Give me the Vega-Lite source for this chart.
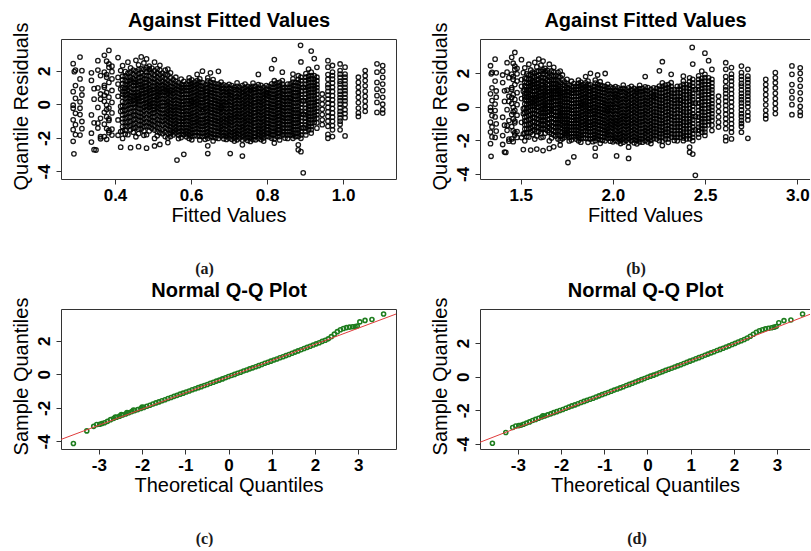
{
"$schema":"https://vega.github.io/schema/vega-lite/v6.json",
"background":"white",
"padding":{"left":10,"top":10,"right":0,"bottom":0},
"columns":2,
"spacing":{"row":130,"column":84},
"bounds":"flush",
"datasets":{
"res":[
{"f":0.29,"e":1.336,"r":2.43},{"f":0.296,"e":1.344,"r":2.04},{"f":0.29,"e":1.336,"r":0.76},{"f":0.296,"e":1.344,"r":0.36},{"f":0.29,"e":1.336,"r":-0.23},{"f":0.296,"e":1.344,"r":-0.53},{"f":0.29,"e":1.336,"r":-0.92},{"f":0.296,"e":1.344,"r":-1.21},{"f":0.29,"e":1.336,"r":-1.51},{"f":0.296,"e":1.344,"r":-1.8},{"f":0.29,"e":1.336,"r":-2.2},{"f":0.292,"e":1.339,"r":-2.95},{"f":0.296,"e":1.344,"r":1.12},{"f":0.29,"e":1.336,"r":-0.05},{"f":0.293,"e":1.34,"r":1.95},
{"f":0.308,"e":1.361,"r":2.82},{"f":0.313,"e":1.367,"r":2.01},{"f":0.308,"e":1.361,"r":1.52},{"f":0.313,"e":1.367,"r":0.56},{"f":0.308,"e":1.361,"r":-0.23},{"f":0.313,"e":1.367,"r":-1.02},{"f":0.308,"e":1.361,"r":-1.83},{"f":0.313,"e":1.367,"r":0.93},{"f":0.308,"e":1.361,"r":-0.61},{"f":0.313,"e":1.367,"r":-1.45},{"f":0.308,"e":1.361,"r":0.15},
{"f":0.338,"e":1.402,"r":1.43},{"f":0.345,"e":1.412,"r":0.94},{"f":0.338,"e":1.402,"r":-0.63},{"f":0.345,"e":1.412,"r":-1.1},{"f":0.338,"e":1.402,"r":-1.72},{"f":0.345,"e":1.412,"r":-2.7},{"f":0.338,"e":1.402,"r":1.88},{"f":0.345,"e":1.412,"r":0.31},{"f":0.338,"e":1.402,"r":-2.25},{"f":0.35,"e":1.419,"r":-2.72},
{"f":0.355,"e":1.426,"r":2.05},{"f":0.362,"e":1.436,"r":1.72},{"f":0.355,"e":1.426,"r":0.98},{"f":0.362,"e":1.436,"r":0.31},{"f":0.355,"e":1.426,"r":-0.18},{"f":0.362,"e":1.436,"r":-0.83},{"f":0.355,"e":1.426,"r":-1.41},{"f":0.362,"e":1.436,"r":-1.93},{"f":0.355,"e":1.426,"r":2.61},{"f":0.362,"e":1.436,"r":0.62},{"f":0.355,"e":1.426,"r":-1.12},{"f":0.362,"e":1.436,"r":-2.05},
{"f":0.384,"e":1.468,"r":3.22},{"f":0.372,"e":1.451,"r":2.93},{"f":0.378,"e":1.459,"r":2.58},{"f":0.384,"e":1.468,"r":2.21},{"f":0.372,"e":1.451,"r":1.93},{"f":0.378,"e":1.459,"r":1.62},{"f":0.384,"e":1.468,"r":1.31},{"f":0.372,"e":1.451,"r":1.02},{"f":0.378,"e":1.459,"r":0.71},{"f":0.384,"e":1.468,"r":0.43},{"f":0.372,"e":1.451,"r":0.18},{"f":0.378,"e":1.459,"r":-0.04},{"f":0.384,"e":1.468,"r":-0.22},{"f":0.372,"e":1.451,"r":-0.47},{"f":0.378,"e":1.459,"r":-0.73},{"f":0.384,"e":1.468,"r":-0.96},{"f":0.372,"e":1.451,"r":-1.18},{"f":0.378,"e":1.459,"r":-1.44},{"f":0.384,"e":1.468,"r":-1.69},{"f":0.372,"e":1.451,"r":-1.92},{"f":0.378,"e":1.459,"r":-2.08},{"f":0.384,"e":1.468,"r":2.41},{"f":0.372,"e":1.451,"r":1.13},{"f":0.378,"e":1.459,"r":-0.31},{"f":0.384,"e":1.468,"r":-0.86},{"f":0.372,"e":1.451,"r":0.55},{"f":0.378,"e":1.459,"r":1.78},{"f":0.384,"e":1.468,"r":-1.55},
{"f":0.392,"e":1.48,"r":2.28},{"f":0.392,"e":1.48,"r":1.52},{"f":0.392,"e":1.48,"r":0.83},{"f":0.392,"e":1.48,"r":-0.51},{"f":0.392,"e":1.48,"r":-1.48},{"f":0.392,"e":1.48,"r":-1.83},{"f":0.392,"e":1.48,"r":0.12},{"f":0.392,"e":1.48,"r":1.95},
{"f":0.408,"e":1.504,"r":2.79},{"f":0.415,"e":1.514,"r":2.02},{"f":0.408,"e":1.504,"r":1.61},{"f":0.415,"e":1.514,"r":0.92},{"f":0.408,"e":1.504,"r":0.48},{"f":0.415,"e":1.514,"r":-0.42},{"f":0.408,"e":1.504,"r":-0.93},{"f":0.415,"e":1.514,"r":-1.62},{"f":0.408,"e":1.504,"r":-1.84},{"f":0.415,"e":1.514,"r":-2.55},{"f":0.408,"e":1.504,"r":1.21},{"f":0.415,"e":1.514,"r":-0.12},
{"f":0.42,"e":1.522,"r":2.31},{"f":0.42,"e":1.522,"r":1.68},{"f":0.42,"e":1.522,"r":1.24},{"f":0.42,"e":1.522,"r":0.77},{"f":0.42,"e":1.522,"r":0.42},{"f":0.42,"e":1.522,"r":-0.08},{"f":0.42,"e":1.522,"r":-0.63},{"f":0.42,"e":1.522,"r":-1.07},{"f":0.42,"e":1.522,"r":-1.58},{"f":0.42,"e":1.522,"r":-2.03},
{"f":0.427,"e":1.533,"r":1.95},{"f":0.427,"e":1.533,"r":1.41},{"f":0.427,"e":1.533,"r":0.95},{"f":0.427,"e":1.533,"r":0.56},{"f":0.427,"e":1.533,"r":0.12},{"f":0.427,"e":1.533,"r":-0.35},{"f":0.427,"e":1.533,"r":-0.82},{"f":0.427,"e":1.533,"r":-1.31},{"f":0.427,"e":1.533,"r":-1.77},
{"f":0.434,"e":1.544,"r":2.52},{"f":0.434,"e":1.544,"r":1.87},{"f":0.434,"e":1.544,"r":1.38},{"f":0.434,"e":1.544,"r":1.03},{"f":0.434,"e":1.544,"r":0.61},{"f":0.434,"e":1.544,"r":0.18},{"f":0.434,"e":1.544,"r":-0.27},{"f":0.434,"e":1.544,"r":-0.76},{"f":0.434,"e":1.544,"r":-1.33},{"f":0.434,"e":1.544,"r":-1.81},{"f":0.434,"e":1.544,"r":0.86},
{"f":0.441,"e":1.554,"r":2.18},{"f":0.441,"e":1.554,"r":1.63},{"f":0.441,"e":1.554,"r":1.27},{"f":0.441,"e":1.554,"r":0.72},{"f":0.441,"e":1.554,"r":0.33},{"f":0.441,"e":1.554,"r":0.02},{"f":0.441,"e":1.554,"r":-0.48},{"f":0.441,"e":1.554,"r":-1.02},{"f":0.441,"e":1.554,"r":-1.52},{"f":0.441,"e":1.554,"r":-2.58},{"f":0.441,"e":1.554,"r":1.91},{"f":0.441,"e":1.554,"r":-0.21},
{"f":0.448,"e":1.565,"r":2.05},{"f":0.448,"e":1.565,"r":1.54},{"f":0.448,"e":1.565,"r":1.12},{"f":0.448,"e":1.565,"r":0.68},{"f":0.448,"e":1.565,"r":0.24},{"f":0.448,"e":1.565,"r":-0.19},{"f":0.448,"e":1.565,"r":-0.64},{"f":0.448,"e":1.565,"r":-1.18},{"f":0.448,"e":1.565,"r":-1.66},
{"f":0.455,"e":1.576,"r":2.63},{"f":0.455,"e":1.576,"r":1.98},{"f":0.455,"e":1.576,"r":1.47},{"f":0.455,"e":1.576,"r":1.13},{"f":0.455,"e":1.576,"r":0.72},{"f":0.455,"e":1.576,"r":0.38},{"f":0.455,"e":1.576,"r":0.07},{"f":0.455,"e":1.576,"r":-0.41},{"f":0.455,"e":1.576,"r":-0.88},{"f":0.455,"e":1.576,"r":-1.38},{"f":0.455,"e":1.576,"r":-1.93},{"f":0.455,"e":1.576,"r":0.93},
{"f":0.462,"e":1.587,"r":2.36},{"f":0.462,"e":1.587,"r":1.82},{"f":0.462,"e":1.587,"r":1.36},{"f":0.462,"e":1.587,"r":0.97},{"f":0.462,"e":1.587,"r":0.53},{"f":0.462,"e":1.587,"r":0.16},{"f":0.462,"e":1.587,"r":-0.23},{"f":0.462,"e":1.587,"r":-0.71},{"f":0.462,"e":1.587,"r":-1.22},{"f":0.462,"e":1.587,"r":-1.74},{"f":0.462,"e":1.587,"r":0.69},{"f":0.462,"e":1.587,"r":-2.52},
{"f":0.469,"e":1.598,"r":2.83},{"f":0.469,"e":1.598,"r":2.12},{"f":0.469,"e":1.598,"r":1.63},{"f":0.469,"e":1.598,"r":1.18},{"f":0.469,"e":1.598,"r":0.82},{"f":0.469,"e":1.598,"r":0.43},{"f":0.469,"e":1.598,"r":-0.03},{"f":0.469,"e":1.598,"r":-0.52},{"f":0.469,"e":1.598,"r":-0.98},{"f":0.469,"e":1.598,"r":-1.47},{"f":0.469,"e":1.598,"r":1.01},{"f":0.469,"e":1.598,"r":0.21},
{"f":0.476,"e":1.61,"r":2.47},{"f":0.476,"e":1.61,"r":1.74},{"f":0.476,"e":1.61,"r":1.29},{"f":0.476,"e":1.61,"r":0.87},{"f":0.476,"e":1.61,"r":0.46},{"f":0.476,"e":1.61,"r":0.04},{"f":0.476,"e":1.61,"r":-0.38},{"f":0.476,"e":1.61,"r":-0.86},{"f":0.476,"e":1.61,"r":-1.33},{"f":0.476,"e":1.61,"r":-1.84},
{"f":0.483,"e":1.621,"r":2.71},{"f":0.483,"e":1.621,"r":2.19},{"f":0.483,"e":1.621,"r":1.71},{"f":0.483,"e":1.621,"r":1.31},{"f":0.483,"e":1.621,"r":0.91},{"f":0.483,"e":1.621,"r":0.52},{"f":0.483,"e":1.621,"r":0.11},{"f":0.483,"e":1.621,"r":-0.31},{"f":0.483,"e":1.621,"r":-0.79},{"f":0.483,"e":1.621,"r":-1.29},{"f":0.483,"e":1.621,"r":-1.81},{"f":0.483,"e":1.621,"r":-2.61},
{"f":0.49,"e":1.632,"r":2.28},{"f":0.49,"e":1.632,"r":1.93},{"f":0.49,"e":1.632,"r":1.42},{"f":0.49,"e":1.632,"r":0.98},{"f":0.49,"e":1.632,"r":0.61},{"f":0.49,"e":1.632,"r":0.19},{"f":0.49,"e":1.632,"r":-0.18},{"f":0.49,"e":1.632,"r":-0.62},{"f":0.49,"e":1.632,"r":-1.11},{"f":0.49,"e":1.632,"r":-1.58},{"f":0.49,"e":1.632,"r":0.81},
{"f":0.497,"e":1.644,"r":2.16},{"f":0.497,"e":1.644,"r":1.57},{"f":0.497,"e":1.644,"r":1.08},{"f":0.497,"e":1.644,"r":0.66},{"f":0.497,"e":1.644,"r":0.27},{"f":0.497,"e":1.644,"r":-0.12},{"f":0.497,"e":1.644,"r":-0.53},{"f":0.497,"e":1.644,"r":-0.97},{"f":0.497,"e":1.644,"r":-1.43},
{"f":0.504,"e":1.655,"r":2.52},{"f":0.504,"e":1.655,"r":2.01},{"f":0.504,"e":1.655,"r":1.51},{"f":0.504,"e":1.655,"r":1.09},{"f":0.504,"e":1.655,"r":0.72},{"f":0.504,"e":1.655,"r":0.29},{"f":0.504,"e":1.655,"r":-0.11},{"f":0.504,"e":1.655,"r":-0.49},{"f":0.504,"e":1.655,"r":-1.02},{"f":0.504,"e":1.655,"r":-1.53},{"f":0.504,"e":1.655,"r":-2.03},{"f":0.504,"e":1.655,"r":-2.48},
{"f":0.511,"e":1.667,"r":2.12},{"f":0.511,"e":1.667,"r":1.62},{"f":0.511,"e":1.667,"r":1.17},{"f":0.511,"e":1.667,"r":0.79},{"f":0.511,"e":1.667,"r":0.41},{"f":0.511,"e":1.667,"r":0.03},{"f":0.511,"e":1.667,"r":-0.42},{"f":0.511,"e":1.667,"r":-0.91},{"f":0.511,"e":1.667,"r":-1.38},{"f":0.511,"e":1.667,"r":-1.87},{"f":0.511,"e":1.667,"r":0.58},
{"f":0.518,"e":1.679,"r":2.33},{"f":0.518,"e":1.679,"r":1.78},{"f":0.518,"e":1.679,"r":1.31},{"f":0.518,"e":1.679,"r":0.88},{"f":0.518,"e":1.679,"r":0.52},{"f":0.518,"e":1.679,"r":0.08},{"f":0.518,"e":1.679,"r":-0.28},{"f":0.518,"e":1.679,"r":-0.72},{"f":0.518,"e":1.679,"r":-1.18},{"f":0.518,"e":1.679,"r":-1.69},{"f":0.518,"e":1.679,"r":-2.39},
{"f":0.525,"e":1.69,"r":1.87},{"f":0.525,"e":1.69,"r":1.38},{"f":0.525,"e":1.69,"r":0.96},{"f":0.525,"e":1.69,"r":0.57},{"f":0.525,"e":1.69,"r":0.14},{"f":0.525,"e":1.69,"r":-0.33},{"f":0.525,"e":1.69,"r":-0.78},{"f":0.525,"e":1.69,"r":-1.24},{"f":0.525,"e":1.69,"r":-1.75},
{"f":0.532,"e":1.702,"r":2.04},{"f":0.532,"e":1.702,"r":1.53},{"f":0.532,"e":1.702,"r":1.07},{"f":0.532,"e":1.702,"r":0.73},{"f":0.532,"e":1.702,"r":0.31},{"f":0.532,"e":1.702,"r":-0.08},{"f":0.532,"e":1.702,"r":-0.52},{"f":0.532,"e":1.702,"r":-0.93},{"f":0.532,"e":1.702,"r":-1.41},{"f":0.532,"e":1.702,"r":-1.92},{"f":0.532,"e":1.702,"r":1.29},
{"f":0.539,"e":1.714,"r":2.11},{"f":0.539,"e":1.714,"r":1.42},{"f":0.539,"e":1.714,"r":0.98},{"f":0.539,"e":1.714,"r":0.62},{"f":0.539,"e":1.714,"r":0.18},{"f":0.539,"e":1.714,"r":-0.21},{"f":0.539,"e":1.714,"r":-0.59},{"f":0.539,"e":1.714,"r":-1.03},{"f":0.539,"e":1.714,"r":-1.48},{"f":0.539,"e":1.714,"r":-2.01},{"f":0.539,"e":1.714,"r":-2.28},
{"f":0.546,"e":1.726,"r":1.88},{"f":0.546,"e":1.726,"r":1.31},{"f":0.546,"e":1.726,"r":0.87},{"f":0.546,"e":1.726,"r":0.52},{"f":0.546,"e":1.726,"r":0.09},{"f":0.546,"e":1.726,"r":-0.32},{"f":0.546,"e":1.726,"r":-0.71},{"f":0.546,"e":1.726,"r":-1.12},{"f":0.546,"e":1.726,"r":-1.53},{"f":0.546,"e":1.726,"r":-1.91},
{"f":0.553,"e":1.738,"r":1.47},{"f":0.553,"e":1.738,"r":1.03},{"f":0.553,"e":1.738,"r":0.64},{"f":0.553,"e":1.738,"r":0.23},{"f":0.553,"e":1.738,"r":-0.18},{"f":0.553,"e":1.738,"r":-0.58},{"f":0.553,"e":1.738,"r":-0.99},{"f":0.553,"e":1.738,"r":-1.42},{"f":0.553,"e":1.738,"r":-1.82},
{"f":0.56,"e":1.751,"r":1.62},{"f":0.56,"e":1.751,"r":1.13},{"f":0.56,"e":1.751,"r":0.72},{"f":0.56,"e":1.751,"r":0.28},{"f":0.56,"e":1.751,"r":-0.13},{"f":0.56,"e":1.751,"r":-0.52},{"f":0.56,"e":1.751,"r":-0.92},{"f":0.56,"e":1.751,"r":-1.33},{"f":0.56,"e":1.751,"r":-1.71},{"f":0.563,"e":1.756,"r":-3.32},{"f":0.56,"e":1.751,"r":0.49},
{"f":0.567,"e":1.763,"r":1.28},{"f":0.567,"e":1.763,"r":0.86},{"f":0.567,"e":1.763,"r":0.44},{"f":0.567,"e":1.763,"r":0.02},{"f":0.567,"e":1.763,"r":-0.37},{"f":0.567,"e":1.763,"r":-0.79},{"f":0.567,"e":1.763,"r":-1.21},{"f":0.567,"e":1.763,"r":-1.63},{"f":0.567,"e":1.763,"r":-2.04},
{"f":0.574,"e":1.775,"r":1.51},{"f":0.574,"e":1.775,"r":1.18},{"f":0.574,"e":1.775,"r":0.79},{"f":0.574,"e":1.775,"r":0.38},{"f":0.574,"e":1.775,"r":-0.03},{"f":0.574,"e":1.775,"r":-0.42},{"f":0.574,"e":1.775,"r":-0.83},{"f":0.574,"e":1.775,"r":-1.19},{"f":0.574,"e":1.775,"r":-1.58},{"f":0.574,"e":1.775,"r":-1.98},
{"f":0.581,"e":1.788,"r":1.37},{"f":0.581,"e":1.788,"r":0.98},{"f":0.581,"e":1.788,"r":0.61},{"f":0.581,"e":1.788,"r":0.19},{"f":0.581,"e":1.788,"r":-0.22},{"f":0.581,"e":1.788,"r":-0.63},{"f":0.581,"e":1.788,"r":-1.02},{"f":0.581,"e":1.788,"r":-1.41},{"f":0.581,"e":1.788,"r":-1.81},{"f":0.581,"e":1.788,"r":-2.98},{"f":0.581,"e":1.788,"r":0.82},
{"f":0.588,"e":1.8,"r":1.22},{"f":0.588,"e":1.8,"r":0.83},{"f":0.588,"e":1.8,"r":0.41},{"f":0.588,"e":1.8,"r":0.03},{"f":0.588,"e":1.8,"r":-0.38},{"f":0.588,"e":1.8,"r":-0.77},{"f":0.588,"e":1.8,"r":-1.18},{"f":0.588,"e":1.8,"r":-1.57},{"f":0.588,"e":1.8,"r":-1.93},
{"f":0.595,"e":1.813,"r":1.58},{"f":0.595,"e":1.813,"r":1.19},{"f":0.595,"e":1.813,"r":0.81},{"f":0.595,"e":1.813,"r":0.42},{"f":0.595,"e":1.813,"r":0.01},{"f":0.595,"e":1.813,"r":-0.41},{"f":0.595,"e":1.813,"r":-0.81},{"f":0.595,"e":1.813,"r":-1.22},{"f":0.595,"e":1.813,"r":-1.62},{"f":0.595,"e":1.813,"r":-2.03},
{"f":0.602,"e":1.826,"r":1.46},{"f":0.602,"e":1.826,"r":1.07},{"f":0.602,"e":1.826,"r":0.68},{"f":0.602,"e":1.826,"r":0.27},{"f":0.602,"e":1.826,"r":-0.12},{"f":0.602,"e":1.826,"r":-0.53},{"f":0.602,"e":1.826,"r":-0.92},{"f":0.602,"e":1.826,"r":-1.31},{"f":0.602,"e":1.826,"r":-1.72},{"f":0.602,"e":1.826,"r":-2.11},{"f":0.602,"e":1.826,"r":0.18},
{"f":0.609,"e":1.839,"r":1.33},{"f":0.609,"e":1.839,"r":0.94},{"f":0.609,"e":1.839,"r":0.53},{"f":0.609,"e":1.839,"r":0.12},{"f":0.609,"e":1.839,"r":-0.27},{"f":0.609,"e":1.839,"r":-0.68},{"f":0.609,"e":1.839,"r":-1.08},{"f":0.609,"e":1.839,"r":-1.47},{"f":0.609,"e":1.839,"r":-1.86},
{"f":0.616,"e":1.852,"r":1.41},{"f":0.616,"e":1.852,"r":1.02},{"f":0.616,"e":1.852,"r":0.59},{"f":0.616,"e":1.852,"r":0.21},{"f":0.616,"e":1.852,"r":-0.19},{"f":0.616,"e":1.852,"r":-0.61},{"f":0.616,"e":1.852,"r":-1.01},{"f":0.616,"e":1.852,"r":-1.42},{"f":0.616,"e":1.852,"r":-1.88},{"f":0.616,"e":1.852,"r":1.79},
{"f":0.623,"e":1.865,"r":1.52},{"f":0.623,"e":1.865,"r":1.12},{"f":0.623,"e":1.865,"r":0.71},{"f":0.623,"e":1.865,"r":0.31},{"f":0.623,"e":1.865,"r":-0.08},{"f":0.623,"e":1.865,"r":-0.49},{"f":0.623,"e":1.865,"r":-0.91},{"f":0.623,"e":1.865,"r":-1.29},{"f":0.623,"e":1.865,"r":-1.69},{"f":0.623,"e":1.865,"r":-2.12},
{"f":0.63,"e":1.878,"r":1.29},{"f":0.63,"e":1.878,"r":0.88},{"f":0.63,"e":1.878,"r":0.49},{"f":0.63,"e":1.878,"r":0.09},{"f":0.63,"e":1.878,"r":-0.31},{"f":0.63,"e":1.878,"r":-0.72},{"f":0.63,"e":1.878,"r":-1.12},{"f":0.63,"e":1.878,"r":-1.51},{"f":0.63,"e":1.878,"r":-1.92},{"f":0.63,"e":1.878,"r":1.98},{"f":0.63,"e":1.878,"r":-0.43},
{"f":0.637,"e":1.891,"r":1.17},{"f":0.637,"e":1.891,"r":0.77},{"f":0.637,"e":1.891,"r":0.36},{"f":0.637,"e":1.891,"r":-0.04},{"f":0.637,"e":1.891,"r":-0.46},{"f":0.637,"e":1.891,"r":-0.86},{"f":0.637,"e":1.891,"r":-1.26},{"f":0.637,"e":1.891,"r":-1.68},{"f":0.637,"e":1.891,"r":-2.08},
{"f":0.644,"e":1.904,"r":1.58},{"f":0.644,"e":1.904,"r":1.21},{"f":0.644,"e":1.904,"r":0.79},{"f":0.644,"e":1.904,"r":0.41},{"f":0.644,"e":1.904,"r":-0.01},{"f":0.644,"e":1.904,"r":-0.39},{"f":0.644,"e":1.904,"r":-0.82},{"f":0.644,"e":1.904,"r":-1.21},{"f":0.644,"e":1.904,"r":-1.63},{"f":0.644,"e":1.904,"r":-2.02},{"f":0.644,"e":1.904,"r":-2.93},{"f":0.644,"e":1.904,"r":-2.47},
{"f":0.651,"e":1.917,"r":1.32},{"f":0.651,"e":1.917,"r":0.91},{"f":0.651,"e":1.917,"r":0.52},{"f":0.651,"e":1.917,"r":0.11},{"f":0.651,"e":1.917,"r":-0.28},{"f":0.651,"e":1.917,"r":-0.69},{"f":0.651,"e":1.917,"r":-1.09},{"f":0.651,"e":1.917,"r":-1.52},{"f":0.651,"e":1.917,"r":-1.91},{"f":0.651,"e":1.917,"r":1.88},
{"f":0.658,"e":1.931,"r":1.48},{"f":0.658,"e":1.931,"r":1.08},{"f":0.658,"e":1.931,"r":0.68},{"f":0.658,"e":1.931,"r":0.29},{"f":0.658,"e":1.931,"r":-0.12},{"f":0.658,"e":1.931,"r":-0.51},{"f":0.658,"e":1.931,"r":-0.92},{"f":0.658,"e":1.931,"r":-1.32},{"f":0.658,"e":1.931,"r":-1.77},{"f":0.658,"e":1.931,"r":-2.18},
{"f":0.665,"e":1.944,"r":1.03},{"f":0.665,"e":1.944,"r":0.63},{"f":0.665,"e":1.944,"r":0.24},{"f":0.665,"e":1.944,"r":-0.16},{"f":0.665,"e":1.944,"r":-0.57},{"f":0.665,"e":1.944,"r":-0.97},{"f":0.665,"e":1.944,"r":-1.38},{"f":0.665,"e":1.944,"r":-1.79},
{"f":0.672,"e":1.958,"r":1.21},{"f":0.672,"e":1.958,"r":0.82},{"f":0.672,"e":1.958,"r":0.38},{"f":0.672,"e":1.958,"r":-0.02},{"f":0.672,"e":1.958,"r":-0.41},{"f":0.672,"e":1.958,"r":-0.82},{"f":0.672,"e":1.958,"r":-1.22},{"f":0.672,"e":1.958,"r":-1.61},{"f":0.672,"e":1.958,"r":-2.03},{"f":0.672,"e":1.958,"r":1.97},
{"f":0.679,"e":1.972,"r":1.33},{"f":0.679,"e":1.972,"r":0.93},{"f":0.679,"e":1.972,"r":0.51},{"f":0.679,"e":1.972,"r":0.12},{"f":0.679,"e":1.972,"r":-0.29},{"f":0.679,"e":1.972,"r":-0.71},{"f":0.679,"e":1.972,"r":-1.13},{"f":0.679,"e":1.972,"r":-1.52},{"f":0.679,"e":1.972,"r":-1.89},{"f":0.679,"e":1.972,"r":-0.18},
{"f":0.686,"e":1.986,"r":0.97},{"f":0.686,"e":1.986,"r":0.58},{"f":0.686,"e":1.986,"r":0.17},{"f":0.686,"e":1.986,"r":-0.22},{"f":0.686,"e":1.986,"r":-0.63},{"f":0.686,"e":1.986,"r":-1.03},{"f":0.686,"e":1.986,"r":-1.44},{"f":0.686,"e":1.986,"r":-1.86},
{"f":0.693,"e":2.0,"r":1.11},{"f":0.693,"e":2.0,"r":0.72},{"f":0.693,"e":2.0,"r":0.31},{"f":0.693,"e":2.0,"r":-0.08},{"f":0.693,"e":2.0,"r":-0.49},{"f":0.693,"e":2.0,"r":-0.91},{"f":0.693,"e":2.0,"r":-1.29},{"f":0.693,"e":2.0,"r":-1.72},{"f":0.693,"e":2.0,"r":-2.09},{"f":0.693,"e":2.0,"r":0.52},
{"f":0.7,"e":2.014,"r":1.19},{"f":0.7,"e":2.014,"r":0.78},{"f":0.7,"e":2.014,"r":0.41},{"f":0.7,"e":2.014,"r":-0.02},{"f":0.7,"e":2.014,"r":-0.42},{"f":0.7,"e":2.014,"r":-0.81},{"f":0.7,"e":2.014,"r":-1.19},{"f":0.7,"e":2.014,"r":-1.62},{"f":0.7,"e":2.014,"r":-2.01},{"f":0.703,"e":2.02,"r":-2.93},
{"f":0.707,"e":2.028,"r":0.92},{"f":0.707,"e":2.028,"r":0.53},{"f":0.707,"e":2.028,"r":0.13},{"f":0.707,"e":2.028,"r":-0.27},{"f":0.707,"e":2.028,"r":-0.68},{"f":0.707,"e":2.028,"r":-1.07},{"f":0.707,"e":2.028,"r":-1.48},{"f":0.707,"e":2.028,"r":-1.89},
{"f":0.714,"e":2.042,"r":1.02},{"f":0.714,"e":2.042,"r":0.63},{"f":0.714,"e":2.042,"r":0.22},{"f":0.714,"e":2.042,"r":-0.18},{"f":0.714,"e":2.042,"r":-0.59},{"f":0.714,"e":2.042,"r":-0.98},{"f":0.714,"e":2.042,"r":-1.41},{"f":0.714,"e":2.042,"r":-1.81},{"f":0.714,"e":2.042,"r":-2.19},{"f":0.714,"e":2.042,"r":0.87},
{"f":0.721,"e":2.056,"r":1.28},{"f":0.721,"e":2.056,"r":0.89},{"f":0.721,"e":2.056,"r":0.48},{"f":0.721,"e":2.056,"r":0.07},{"f":0.721,"e":2.056,"r":-0.33},{"f":0.721,"e":2.056,"r":-0.72},{"f":0.721,"e":2.056,"r":-1.12},{"f":0.721,"e":2.056,"r":-1.53},{"f":0.721,"e":2.056,"r":-1.92},{"f":0.721,"e":2.056,"r":-0.91},
{"f":0.728,"e":2.071,"r":0.81},{"f":0.728,"e":2.071,"r":0.42},{"f":0.728,"e":2.071,"r":0.02},{"f":0.728,"e":2.071,"r":-0.39},{"f":0.728,"e":2.071,"r":-0.78},{"f":0.728,"e":2.071,"r":-1.18},{"f":0.728,"e":2.071,"r":-1.59},{"f":0.728,"e":2.071,"r":-2.01},
{"f":0.735,"e":2.085,"r":1.12},{"f":0.735,"e":2.085,"r":0.71},{"f":0.735,"e":2.085,"r":0.29},{"f":0.735,"e":2.085,"r":-0.11},{"f":0.735,"e":2.085,"r":-0.52},{"f":0.735,"e":2.085,"r":-0.92},{"f":0.735,"e":2.085,"r":-1.32},{"f":0.735,"e":2.085,"r":-1.71},{"f":0.735,"e":2.085,"r":-2.12},{"f":0.735,"e":2.085,"r":-3.08},{"f":0.735,"e":2.085,"r":-2.41},
{"f":0.742,"e":2.1,"r":1.21},{"f":0.742,"e":2.1,"r":0.79},{"f":0.742,"e":2.1,"r":0.39},{"f":0.742,"e":2.1,"r":-0.01},{"f":0.742,"e":2.1,"r":-0.42},{"f":0.742,"e":2.1,"r":-0.82},{"f":0.742,"e":2.1,"r":-1.22},{"f":0.742,"e":2.1,"r":-1.63},{"f":0.742,"e":2.1,"r":-2.02},
{"f":0.749,"e":2.115,"r":0.88},{"f":0.749,"e":2.115,"r":0.47},{"f":0.749,"e":2.115,"r":0.07},{"f":0.749,"e":2.115,"r":-0.33},{"f":0.749,"e":2.115,"r":-0.74},{"f":0.749,"e":2.115,"r":-1.14},{"f":0.749,"e":2.115,"r":-1.55},{"f":0.749,"e":2.115,"r":-1.96},
{"f":0.756,"e":2.13,"r":1.02},{"f":0.756,"e":2.13,"r":0.58},{"f":0.756,"e":2.13,"r":0.19},{"f":0.756,"e":2.13,"r":-0.21},{"f":0.756,"e":2.13,"r":-0.61},{"f":0.756,"e":2.13,"r":-1.01},{"f":0.756,"e":2.13,"r":-1.42},{"f":0.756,"e":2.13,"r":-1.82},{"f":0.756,"e":2.13,"r":-2.21},{"f":0.756,"e":2.13,"r":0.93},
{"f":0.763,"e":2.145,"r":1.27},{"f":0.763,"e":2.145,"r":0.88},{"f":0.763,"e":2.145,"r":0.48},{"f":0.763,"e":2.145,"r":0.09},{"f":0.763,"e":2.145,"r":-0.31},{"f":0.763,"e":2.145,"r":-0.72},{"f":0.763,"e":2.145,"r":-1.11},{"f":0.763,"e":2.145,"r":-1.51},{"f":0.763,"e":2.145,"r":-1.92},
{"f":0.77,"e":2.16,"r":0.71},{"f":0.77,"e":2.16,"r":0.31},{"f":0.77,"e":2.16,"r":-0.09},{"f":0.77,"e":2.16,"r":-0.49},{"f":0.77,"e":2.16,"r":-0.89},{"f":0.77,"e":2.16,"r":-1.29},{"f":0.77,"e":2.16,"r":-1.72},{"f":0.77,"e":2.16,"r":-2.11},{"f":0.77,"e":2.16,"r":1.08},
{"f":0.777,"e":2.175,"r":1.18},{"f":0.777,"e":2.175,"r":0.77},{"f":0.777,"e":2.175,"r":0.38},{"f":0.777,"e":2.175,"r":-0.02},{"f":0.777,"e":2.175,"r":-0.41},{"f":0.777,"e":2.175,"r":-0.82},{"f":0.777,"e":2.175,"r":-1.23},{"f":0.777,"e":2.175,"r":-1.61},{"f":0.777,"e":2.175,"r":-2.02},{"f":0.777,"e":2.175,"r":1.79},
{"f":0.784,"e":2.19,"r":0.93},{"f":0.784,"e":2.19,"r":0.52},{"f":0.784,"e":2.19,"r":0.12},{"f":0.784,"e":2.19,"r":-0.28},{"f":0.784,"e":2.19,"r":-0.68},{"f":0.784,"e":2.19,"r":-1.09},{"f":0.784,"e":2.19,"r":-1.49},{"f":0.784,"e":2.19,"r":-1.91},
{"f":0.791,"e":2.206,"r":1.02},{"f":0.791,"e":2.206,"r":0.61},{"f":0.791,"e":2.206,"r":0.21},{"f":0.791,"e":2.206,"r":-0.19},{"f":0.791,"e":2.206,"r":-0.61},{"f":0.791,"e":2.206,"r":-1.01},{"f":0.791,"e":2.206,"r":-1.41},{"f":0.791,"e":2.206,"r":-1.81},{"f":0.791,"e":2.206,"r":-2.19},
{"f":0.798,"e":2.221,"r":1.12},{"f":0.798,"e":2.221,"r":0.71},{"f":0.798,"e":2.221,"r":0.32},{"f":0.798,"e":2.221,"r":-0.12},{"f":0.798,"e":2.221,"r":-0.51},{"f":0.798,"e":2.221,"r":-0.91},{"f":0.798,"e":2.221,"r":-1.31},{"f":0.798,"e":2.221,"r":-1.71},{"f":0.798,"e":2.221,"r":0.62},
{"f":0.805,"e":2.237,"r":0.88},{"f":0.805,"e":2.237,"r":0.48},{"f":0.805,"e":2.237,"r":0.08},{"f":0.805,"e":2.237,"r":-0.33},{"f":0.805,"e":2.237,"r":-0.72},{"f":0.805,"e":2.237,"r":-1.13},{"f":0.805,"e":2.237,"r":-1.52},{"f":0.805,"e":2.237,"r":-1.93},
{"f":0.812,"e":2.252,"r":2.13},{"f":0.812,"e":2.252,"r":1.22},{"f":0.812,"e":2.252,"r":0.81},{"f":0.812,"e":2.252,"r":0.42},{"f":0.812,"e":2.252,"r":0.01},{"f":0.812,"e":2.252,"r":-0.38},{"f":0.812,"e":2.252,"r":-0.79},{"f":0.812,"e":2.252,"r":-1.19},{"f":0.812,"e":2.252,"r":-1.61},{"f":0.812,"e":2.252,"r":-2.02},
{"f":0.819,"e":2.268,"r":2.67},{"f":0.819,"e":2.268,"r":1.41},{"f":0.819,"e":2.268,"r":1.02},{"f":0.819,"e":2.268,"r":0.59},{"f":0.819,"e":2.268,"r":0.19},{"f":0.819,"e":2.268,"r":-0.21},{"f":0.819,"e":2.268,"r":-0.62},{"f":0.819,"e":2.268,"r":-1.01},{"f":0.819,"e":2.268,"r":-1.42},{"f":0.819,"e":2.268,"r":-1.81},{"f":0.819,"e":2.268,"r":-2.31},
{"f":0.826,"e":2.284,"r":1.08},{"f":0.826,"e":2.284,"r":0.67},{"f":0.826,"e":2.284,"r":0.28},{"f":0.826,"e":2.284,"r":-0.12},{"f":0.826,"e":2.284,"r":-0.53},{"f":0.826,"e":2.284,"r":-0.93},{"f":0.826,"e":2.284,"r":-1.33},{"f":0.826,"e":2.284,"r":-1.72},
{"f":0.833,"e":2.3,"r":1.31},{"f":0.833,"e":2.3,"r":0.92},{"f":0.833,"e":2.3,"r":0.51},{"f":0.833,"e":2.3,"r":0.11},{"f":0.833,"e":2.3,"r":-0.29},{"f":0.833,"e":2.3,"r":-0.69},{"f":0.833,"e":2.3,"r":-1.11},{"f":0.833,"e":2.3,"r":-1.51},{"f":0.833,"e":2.3,"r":-1.92},{"f":0.833,"e":2.3,"r":-2.12},
{"f":0.84,"e":2.316,"r":1.42},{"f":0.84,"e":2.316,"r":1.01},{"f":0.84,"e":2.316,"r":0.62},{"f":0.84,"e":2.316,"r":0.22},{"f":0.84,"e":2.316,"r":-0.18},{"f":0.84,"e":2.316,"r":-0.58},{"f":0.84,"e":2.316,"r":-0.99},{"f":0.84,"e":2.316,"r":-1.41},{"f":0.84,"e":2.316,"r":-1.81},{"f":0.84,"e":2.316,"r":1.92},
{"f":0.847,"e":2.333,"r":0.79},{"f":0.847,"e":2.333,"r":0.38},{"f":0.847,"e":2.333,"r":-0.02},{"f":0.847,"e":2.333,"r":-0.43},{"f":0.847,"e":2.333,"r":-0.83},{"f":0.847,"e":2.333,"r":-1.22},{"f":0.847,"e":2.333,"r":-1.63},{"f":0.847,"e":2.333,"r":-2.01},
{"f":0.854,"e":2.349,"r":1.21},{"f":0.854,"e":2.349,"r":0.82},{"f":0.854,"e":2.349,"r":0.41},{"f":0.854,"e":2.349,"r":0.02},{"f":0.854,"e":2.349,"r":-0.39},{"f":0.854,"e":2.349,"r":-0.81},{"f":0.854,"e":2.349,"r":-1.21},{"f":0.854,"e":2.349,"r":-1.62},{"f":0.854,"e":2.349,"r":-2.03},
{"f":0.861,"e":2.366,"r":1.02},{"f":0.861,"e":2.366,"r":0.61},{"f":0.861,"e":2.366,"r":0.19},{"f":0.861,"e":2.366,"r":-0.21},{"f":0.861,"e":2.366,"r":-0.62},{"f":0.861,"e":2.366,"r":-1.01},{"f":0.861,"e":2.366,"r":-1.42},{"f":0.861,"e":2.366,"r":-1.82},{"f":0.861,"e":2.366,"r":0.38},
{"f":0.868,"e":2.382,"r":1.52},{"f":0.868,"e":2.382,"r":1.12},{"f":0.868,"e":2.382,"r":0.71},{"f":0.868,"e":2.382,"r":0.31},{"f":0.868,"e":2.382,"r":-0.12},{"f":0.868,"e":2.382,"r":-0.51},{"f":0.868,"e":2.382,"r":-0.91},{"f":0.868,"e":2.382,"r":-1.32},{"f":0.868,"e":2.382,"r":-1.71},{"f":0.868,"e":2.382,"r":-2.02},{"f":0.868,"e":2.382,"r":1.81},
{"f":0.875,"e":2.399,"r":1.31},{"f":0.875,"e":2.399,"r":0.91},{"f":0.875,"e":2.399,"r":0.49},{"f":0.875,"e":2.399,"r":0.08},{"f":0.875,"e":2.399,"r":-0.33},{"f":0.875,"e":2.399,"r":-0.72},{"f":0.875,"e":2.399,"r":-1.12},{"f":0.875,"e":2.399,"r":-1.52},{"f":0.875,"e":2.399,"r":-1.92},
{"f":0.882,"e":2.416,"r":1.71},{"f":0.882,"e":2.416,"r":1.28},{"f":0.882,"e":2.416,"r":0.88},{"f":0.882,"e":2.416,"r":0.52},{"f":0.882,"e":2.416,"r":0.12},{"f":0.882,"e":2.416,"r":-0.31},{"f":0.882,"e":2.416,"r":-0.71},{"f":0.882,"e":2.416,"r":-1.09},{"f":0.882,"e":2.416,"r":-1.52},{"f":0.882,"e":2.416,"r":-1.91},{"f":0.882,"e":2.416,"r":-2.41},{"f":0.882,"e":2.416,"r":-2.71},{"f":0.888,"e":2.43,"r":3.52},
{"f":0.889,"e":2.433,"r":2.53},{"f":0.889,"e":2.433,"r":1.62},{"f":0.889,"e":2.433,"r":1.21},{"f":0.889,"e":2.433,"r":0.79},{"f":0.889,"e":2.433,"r":0.41},{"f":0.889,"e":2.433,"r":0.02},{"f":0.889,"e":2.433,"r":-0.41},{"f":0.889,"e":2.433,"r":-0.79},{"f":0.889,"e":2.433,"r":-1.21},{"f":0.889,"e":2.433,"r":-1.62},{"f":0.889,"e":2.433,"r":-2.02},{"f":0.889,"e":2.433,"r":-2.82},
{"f":0.895,"e":2.447,"r":-4.08},{"f":0.895,"e":2.447,"r":1.02},{"f":0.895,"e":2.447,"r":0.21},{"f":0.895,"e":2.447,"r":-0.58},{"f":0.895,"e":2.447,"r":-1.38},
{"f":0.902,"e":2.465,"r":1.83},{"f":0.902,"e":2.465,"r":1.42},{"f":0.902,"e":2.465,"r":1.01},{"f":0.902,"e":2.465,"r":0.62},{"f":0.902,"e":2.465,"r":0.21},{"f":0.902,"e":2.465,"r":-0.22},{"f":0.902,"e":2.465,"r":-0.62},{"f":0.902,"e":2.465,"r":-1.02},{"f":0.902,"e":2.465,"r":-1.41},{"f":0.902,"e":2.465,"r":-1.82},
{"f":0.909,"e":2.482,"r":2.11},{"f":0.909,"e":2.482,"r":1.68},{"f":0.909,"e":2.482,"r":1.29},{"f":0.909,"e":2.482,"r":0.88},{"f":0.909,"e":2.482,"r":0.49},{"f":0.909,"e":2.482,"r":0.08},{"f":0.909,"e":2.482,"r":-0.31},{"f":0.909,"e":2.482,"r":-0.72},{"f":0.909,"e":2.482,"r":-1.11},{"f":0.909,"e":2.482,"r":-1.52},
{"f":0.916,"e":2.499,"r":3.18},{"f":0.916,"e":2.499,"r":1.92},{"f":0.916,"e":2.499,"r":1.52},{"f":0.916,"e":2.499,"r":1.11},{"f":0.916,"e":2.499,"r":0.72},{"f":0.916,"e":2.499,"r":0.31},{"f":0.916,"e":2.499,"r":-0.12},{"f":0.916,"e":2.499,"r":-0.52},{"f":0.916,"e":2.499,"r":-0.91},{"f":0.916,"e":2.499,"r":-1.32},{"f":0.916,"e":2.499,"r":-1.71},
{"f":0.924,"e":2.519,"r":2.73},{"f":0.924,"e":2.519,"r":1.71},{"f":0.924,"e":2.519,"r":1.31},{"f":0.924,"e":2.519,"r":0.92},{"f":0.924,"e":2.519,"r":0.52},{"f":0.924,"e":2.519,"r":0.11},{"f":0.924,"e":2.519,"r":-0.28},{"f":0.924,"e":2.519,"r":-0.69},{"f":0.924,"e":2.519,"r":-1.08},
{"f":0.931,"e":2.537,"r":2.21},{"f":0.931,"e":2.537,"r":1.62},{"f":0.931,"e":2.537,"r":1.19},{"f":0.931,"e":2.537,"r":0.81},{"f":0.931,"e":2.537,"r":0.38},{"f":0.931,"e":2.537,"r":-0.02},{"f":0.931,"e":2.537,"r":-0.41},{"f":0.931,"e":2.537,"r":-0.82},{"f":0.931,"e":2.537,"r":-1.42},
{"f":0.945,"e":2.573,"r":0.62},{"f":0.945,"e":2.573,"r":0.31},{"f":0.945,"e":2.573,"r":0.02},{"f":0.945,"e":2.573,"r":-0.29},{"f":0.945,"e":2.573,"r":-0.61},{"f":0.945,"e":2.573,"r":-0.92},{"f":0.945,"e":2.573,"r":-1.21},
{"f":0.96,"e":2.612,"r":2.61},{"f":0.96,"e":2.612,"r":2.22},{"f":0.96,"e":2.612,"r":1.78},{"f":0.96,"e":2.612,"r":1.18},{"f":0.96,"e":2.612,"r":0.78},{"f":0.96,"e":2.612,"r":0.32},{"f":0.96,"e":2.612,"r":-0.18},{"f":0.96,"e":2.612,"r":-0.72},{"f":0.96,"e":2.612,"r":-1.31},{"f":0.96,"e":2.612,"r":-1.79},{"f":0.96,"e":2.612,"r":-2.02},
{"f":0.972,"e":2.643,"r":2.32},{"f":0.972,"e":2.643,"r":1.93},{"f":0.972,"e":2.643,"r":1.51},{"f":0.972,"e":2.643,"r":1.02},{"f":0.972,"e":2.643,"r":0.52},{"f":0.972,"e":2.643,"r":0.01},{"f":0.972,"e":2.643,"r":-0.51},{"f":0.972,"e":2.643,"r":-1.01},{"f":0.972,"e":2.643,"r":-1.52},{"f":0.972,"e":2.643,"r":-1.92},
{"f":0.992,"e":2.697,"r":2.41},{"f":0.992,"e":2.697,"r":2.02},{"f":0.992,"e":2.697,"r":1.61},{"f":0.992,"e":2.697,"r":1.22},{"f":0.992,"e":2.697,"r":0.79},{"f":0.992,"e":2.697,"r":0.41},{"f":0.992,"e":2.697,"r":0.02},{"f":0.992,"e":2.697,"r":-0.42},{"f":0.992,"e":2.697,"r":-0.81},{"f":0.992,"e":2.697,"r":-1.18},{"f":0.992,"e":2.697,"r":-1.52},{"f":0.992,"e":2.697,"r":1.38},
{"f":1.005,"e":2.732,"r":2.22},{"f":1.005,"e":2.732,"r":1.81},{"f":1.005,"e":2.732,"r":1.42},{"f":1.005,"e":2.732,"r":1.01},{"f":1.005,"e":2.732,"r":0.62},{"f":1.005,"e":2.732,"r":0.21},{"f":1.005,"e":2.732,"r":-0.32},{"f":1.005,"e":2.732,"r":-0.79},{"f":1.005,"e":2.732,"r":-1.88},
{"f":1.04,"e":2.829,"r":1.62},{"f":1.04,"e":2.829,"r":1.31},{"f":1.04,"e":2.829,"r":1.02},{"f":1.04,"e":2.829,"r":0.71},{"f":1.04,"e":2.829,"r":0.42},{"f":1.04,"e":2.829,"r":0.11},{"f":1.04,"e":2.829,"r":-0.22},{"f":1.04,"e":2.829,"r":-0.51},{"f":1.04,"e":2.829,"r":-0.72},
{"f":1.058,"e":2.881,"r":2.02},{"f":1.058,"e":2.881,"r":1.71},{"f":1.058,"e":2.881,"r":1.42},{"f":1.058,"e":2.881,"r":1.11},{"f":1.058,"e":2.881,"r":0.79},{"f":1.058,"e":2.881,"r":0.48},{"f":1.058,"e":2.881,"r":0.19},{"f":1.058,"e":2.881,"r":-0.12},{"f":1.058,"e":2.881,"r":-0.41},
{"f":1.089,"e":2.971,"r":2.42},{"f":1.089,"e":2.971,"r":1.92},{"f":1.089,"e":2.971,"r":1.31},{"f":1.089,"e":2.971,"r":0.91},{"f":1.089,"e":2.971,"r":0.52},{"f":1.089,"e":2.971,"r":0.12},{"f":1.089,"e":2.971,"r":-0.48},
{"f":1.104,"e":3.016,"r":2.31},{"f":1.104,"e":3.016,"r":1.98},{"f":1.104,"e":3.016,"r":1.61},{"f":1.104,"e":3.016,"r":1.21},{"f":1.104,"e":3.016,"r":0.82},{"f":1.104,"e":3.016,"r":0.42},{"f":1.104,"e":3.016,"r":0.01},{"f":1.104,"e":3.016,"r":-0.31},{"f":1.104,"e":3.016,"r":-0.52},
{"f":0.42,"e":1.522,"r":1.46},{"f":0.42,"e":1.522,"r":1.0},{"f":0.42,"e":1.522,"r":0.6},{"f":0.42,"e":1.522,"r":0.17},{"f":0.42,"e":1.522,"r":-0.36},{"f":0.42,"e":1.522,"r":-0.85},{"f":0.42,"e":1.522,"r":-1.33},
{"f":0.427,"e":1.533,"r":1.68},{"f":0.427,"e":1.533,"r":1.18},{"f":0.427,"e":1.533,"r":0.75},{"f":0.427,"e":1.533,"r":0.34},{"f":0.427,"e":1.533,"r":-0.12},{"f":0.427,"e":1.533,"r":-0.59},{"f":0.427,"e":1.533,"r":-1.07},{"f":0.427,"e":1.533,"r":-1.54},
{"f":0.434,"e":1.544,"r":1.62},{"f":0.434,"e":1.544,"r":1.2},{"f":0.434,"e":1.544,"r":0.4},{"f":0.434,"e":1.544,"r":-0.05},{"f":0.434,"e":1.544,"r":-0.52},{"f":0.434,"e":1.544,"r":-1.05},
{"f":0.441,"e":1.554,"r":1.45},{"f":0.441,"e":1.554,"r":0.99},{"f":0.441,"e":1.554,"r":0.52},{"f":0.441,"e":1.554,"r":0.17},{"f":0.441,"e":1.554,"r":-0.75},{"f":0.441,"e":1.554,"r":-1.27},
{"f":0.448,"e":1.565,"r":1.8},{"f":0.448,"e":1.565,"r":1.33},{"f":0.448,"e":1.565,"r":0.9},{"f":0.448,"e":1.565,"r":0.46},{"f":0.448,"e":1.565,"r":0.02},{"f":0.448,"e":1.565,"r":-0.42},{"f":0.448,"e":1.565,"r":-0.91},{"f":0.448,"e":1.565,"r":-1.42},
{"f":0.455,"e":1.576,"r":1.72},{"f":0.455,"e":1.576,"r":1.3},{"f":0.455,"e":1.576,"r":0.55},{"f":0.455,"e":1.576,"r":0.22},{"f":0.455,"e":1.576,"r":-0.17},{"f":0.455,"e":1.576,"r":-0.65},{"f":0.455,"e":1.576,"r":-1.13},
{"f":0.462,"e":1.587,"r":2.08},{"f":0.462,"e":1.587,"r":1.59},{"f":0.462,"e":1.587,"r":1.16},{"f":0.462,"e":1.587,"r":0.34},{"f":0.462,"e":1.587,"r":-0.03},{"f":0.462,"e":1.587,"r":-0.47},{"f":0.462,"e":1.587,"r":-0.96},{"f":0.462,"e":1.587,"r":-1.48},
{"f":0.469,"e":1.598,"r":1.87},{"f":0.469,"e":1.598,"r":1.4},{"f":0.469,"e":1.598,"r":0.62},{"f":0.469,"e":1.598,"r":-0.28},{"f":0.469,"e":1.598,"r":-0.75},{"f":0.469,"e":1.598,"r":-1.22},
{"f":0.476,"e":1.61,"r":2.1},{"f":0.476,"e":1.61,"r":1.51},{"f":0.476,"e":1.61,"r":1.08},{"f":0.476,"e":1.61,"r":0.66},{"f":0.476,"e":1.61,"r":0.25},{"f":0.476,"e":1.61,"r":-0.17},{"f":0.476,"e":1.61,"r":-0.62},{"f":0.476,"e":1.61,"r":-1.1},{"f":0.476,"e":1.61,"r":-1.58},
{"f":0.483,"e":1.621,"r":1.95},{"f":0.483,"e":1.621,"r":1.51},{"f":0.483,"e":1.621,"r":1.11},{"f":0.483,"e":1.621,"r":0.71},{"f":0.483,"e":1.621,"r":0.31},{"f":0.483,"e":1.621,"r":-0.1},{"f":0.483,"e":1.621,"r":-0.55},{"f":0.483,"e":1.621,"r":-1.04},
{"f":0.49,"e":1.632,"r":2.1},{"f":0.49,"e":1.632,"r":1.67},{"f":0.49,"e":1.632,"r":1.2},{"f":0.49,"e":1.632,"r":0.4},{"f":0.49,"e":1.632,"r":0.0},{"f":0.49,"e":1.632,"r":-0.4},{"f":0.49,"e":1.632,"r":-0.86},{"f":0.49,"e":1.632,"r":-1.34},
{"f":0.497,"e":1.644,"r":1.86},{"f":0.497,"e":1.644,"r":1.32},{"f":0.497,"e":1.644,"r":0.87},{"f":0.497,"e":1.644,"r":0.46},{"f":0.497,"e":1.644,"r":0.07},{"f":0.497,"e":1.644,"r":-0.32},{"f":0.497,"e":1.644,"r":-0.75},{"f":0.497,"e":1.644,"r":-1.2},
{"f":0.504,"e":1.655,"r":1.76},{"f":0.504,"e":1.655,"r":1.3},{"f":0.504,"e":1.655,"r":0.9},{"f":0.504,"e":1.655,"r":0.5},{"f":0.504,"e":1.655,"r":0.09},{"f":0.504,"e":1.655,"r":-0.3},{"f":0.504,"e":1.655,"r":-0.75},{"f":0.504,"e":1.655,"r":-1.27},
{"f":0.511,"e":1.667,"r":1.87},{"f":0.511,"e":1.667,"r":1.39},{"f":0.511,"e":1.667,"r":0.98},{"f":0.511,"e":1.667,"r":0.22},{"f":0.511,"e":1.667,"r":-0.2},{"f":0.511,"e":1.667,"r":-0.66},{"f":0.511,"e":1.667,"r":-1.14},{"f":0.511,"e":1.667,"r":-1.62},
{"f":0.518,"e":1.679,"r":2.05},{"f":0.518,"e":1.679,"r":1.54},{"f":0.518,"e":1.679,"r":1.1},{"f":0.518,"e":1.679,"r":0.7},{"f":0.518,"e":1.679,"r":0.3},{"f":0.518,"e":1.679,"r":-0.1},{"f":0.518,"e":1.679,"r":-0.5},{"f":0.518,"e":1.679,"r":-0.95},{"f":0.518,"e":1.679,"r":-1.43},
{"f":0.525,"e":1.69,"r":1.62},{"f":0.525,"e":1.69,"r":1.17},{"f":0.525,"e":1.69,"r":0.76},{"f":0.525,"e":1.69,"r":0.35},{"f":0.525,"e":1.69,"r":-0.1},{"f":0.525,"e":1.69,"r":-0.55},{"f":0.525,"e":1.69,"r":-1.01},{"f":0.525,"e":1.69,"r":-1.5},
{"f":0.532,"e":1.702,"r":1.78},{"f":0.532,"e":1.702,"r":0.9},{"f":0.532,"e":1.702,"r":0.52},{"f":0.532,"e":1.702,"r":0.11},{"f":0.532,"e":1.702,"r":-0.3},{"f":0.532,"e":1.702,"r":-0.72},{"f":0.532,"e":1.702,"r":-1.17},{"f":0.532,"e":1.702,"r":-1.66},
{"f":0.539,"e":1.714,"r":1.76},{"f":0.539,"e":1.714,"r":1.2},{"f":0.539,"e":1.714,"r":0.8},{"f":0.539,"e":1.714,"r":0.4},{"f":0.539,"e":1.714,"r":-0.01},{"f":0.539,"e":1.714,"r":-0.4},{"f":0.539,"e":1.714,"r":-0.81},{"f":0.539,"e":1.714,"r":-1.25},{"f":0.539,"e":1.714,"r":-1.74},
{"f":0.546,"e":1.726,"r":1.59},{"f":0.546,"e":1.726,"r":1.09},{"f":0.546,"e":1.726,"r":0.7},{"f":0.546,"e":1.726,"r":0.3},{"f":0.546,"e":1.726,"r":-0.11},{"f":0.546,"e":1.726,"r":-0.51},{"f":0.546,"e":1.726,"r":-0.91},{"f":0.546,"e":1.726,"r":-1.32},{"f":0.546,"e":1.726,"r":-1.72},
{"f":0.553,"e":1.738,"r":1.25},{"f":0.553,"e":1.738,"r":0.83},{"f":0.553,"e":1.738,"r":0.43},{"f":0.553,"e":1.738,"r":0.02},{"f":0.553,"e":1.738,"r":-0.38},{"f":0.553,"e":1.738,"r":-0.78},{"f":0.553,"e":1.738,"r":-1.2},{"f":0.553,"e":1.738,"r":-1.62},
{"f":0.56,"e":1.751,"r":1.37},{"f":0.56,"e":1.751,"r":0.92},{"f":0.56,"e":1.751,"r":0.07},{"f":0.56,"e":1.751,"r":-0.32},{"f":0.56,"e":1.751,"r":-0.72},{"f":0.56,"e":1.751,"r":-1.12},{"f":0.56,"e":1.751,"r":-1.52},
{"f":0.567,"e":1.763,"r":1.07},{"f":0.567,"e":1.763,"r":0.65},{"f":0.567,"e":1.763,"r":0.23},{"f":0.567,"e":1.763,"r":-0.17},{"f":0.567,"e":1.763,"r":-0.58},{"f":0.567,"e":1.763,"r":-1.0},{"f":0.567,"e":1.763,"r":-1.42},{"f":0.567,"e":1.763,"r":-1.83},
{"f":0.574,"e":1.775,"r":0.98},{"f":0.574,"e":1.775,"r":0.58},{"f":0.574,"e":1.775,"r":0.17},{"f":0.574,"e":1.775,"r":-0.22},{"f":0.574,"e":1.775,"r":-0.62},{"f":0.574,"e":1.775,"r":-1.01},{"f":0.574,"e":1.775,"r":-1.38},{"f":0.574,"e":1.775,"r":-1.78},
{"f":0.581,"e":1.788,"r":1.17},{"f":0.581,"e":1.788,"r":0.4},{"f":0.581,"e":1.788,"r":-0.01},{"f":0.581,"e":1.788,"r":-0.42},{"f":0.581,"e":1.788,"r":-0.82},{"f":0.581,"e":1.788,"r":-1.21},{"f":0.581,"e":1.788,"r":-1.61},
{"f":0.588,"e":1.8,"r":1.02},{"f":0.588,"e":1.8,"r":0.62},{"f":0.588,"e":1.8,"r":0.22},{"f":0.588,"e":1.8,"r":-0.17},{"f":0.588,"e":1.8,"r":-0.57},{"f":0.588,"e":1.8,"r":-0.97},{"f":0.588,"e":1.8,"r":-1.37},{"f":0.588,"e":1.8,"r":-1.75},
{"f":0.595,"e":1.813,"r":1.38},{"f":0.595,"e":1.813,"r":1.0},{"f":0.595,"e":1.813,"r":0.61},{"f":0.595,"e":1.813,"r":0.21},{"f":0.595,"e":1.813,"r":-0.2},{"f":0.595,"e":1.813,"r":-0.61},{"f":0.595,"e":1.813,"r":-1.01},{"f":0.595,"e":1.813,"r":-1.42},{"f":0.595,"e":1.813,"r":-1.82},
{"f":0.602,"e":1.826,"r":1.26},{"f":0.602,"e":1.826,"r":0.87},{"f":0.602,"e":1.826,"r":0.47},{"f":0.602,"e":1.826,"r":0.07},{"f":0.602,"e":1.826,"r":-0.32},{"f":0.602,"e":1.826,"r":-0.72},{"f":0.602,"e":1.826,"r":-1.11},{"f":0.602,"e":1.826,"r":-1.51},{"f":0.602,"e":1.826,"r":-1.91},
{"f":0.609,"e":1.839,"r":1.13},{"f":0.609,"e":1.839,"r":0.73},{"f":0.609,"e":1.839,"r":0.32},{"f":0.609,"e":1.839,"r":-0.07},{"f":0.609,"e":1.839,"r":-0.47},{"f":0.609,"e":1.839,"r":-0.88},{"f":0.609,"e":1.839,"r":-1.27},{"f":0.609,"e":1.839,"r":-1.66},
{"f":0.616,"e":1.852,"r":1.21},{"f":0.616,"e":1.852,"r":0.8},{"f":0.616,"e":1.852,"r":0.4},{"f":0.616,"e":1.852,"r":0.01},{"f":0.616,"e":1.852,"r":-0.4},{"f":0.616,"e":1.852,"r":-0.81},{"f":0.616,"e":1.852,"r":-1.21},{"f":0.616,"e":1.852,"r":-1.65},
{"f":0.623,"e":1.865,"r":1.32},{"f":0.623,"e":1.865,"r":0.91},{"f":0.623,"e":1.865,"r":0.51},{"f":0.623,"e":1.865,"r":0.11},{"f":0.623,"e":1.865,"r":-0.28},{"f":0.623,"e":1.865,"r":-0.7},{"f":0.623,"e":1.865,"r":-1.1},{"f":0.623,"e":1.865,"r":-1.49},{"f":0.623,"e":1.865,"r":-1.9},
{"f":0.63,"e":1.878,"r":1.08},{"f":0.63,"e":1.878,"r":0.68},{"f":0.63,"e":1.878,"r":0.29},{"f":0.63,"e":1.878,"r":-0.11},{"f":0.63,"e":1.878,"r":-0.92},{"f":0.63,"e":1.878,"r":-1.31},{"f":0.63,"e":1.878,"r":-1.71},
{"f":0.637,"e":1.891,"r":0.97},{"f":0.637,"e":1.891,"r":0.56},{"f":0.637,"e":1.891,"r":0.16},{"f":0.637,"e":1.891,"r":-0.25},{"f":0.637,"e":1.891,"r":-0.66},{"f":0.637,"e":1.891,"r":-1.06},{"f":0.637,"e":1.891,"r":-1.47},{"f":0.637,"e":1.891,"r":-1.88},
{"f":0.644,"e":1.904,"r":1.4},{"f":0.644,"e":1.904,"r":1.0},{"f":0.644,"e":1.904,"r":0.6},{"f":0.644,"e":1.904,"r":0.2},{"f":0.644,"e":1.904,"r":-0.2},{"f":0.644,"e":1.904,"r":-0.6},{"f":0.644,"e":1.904,"r":-1.01},{"f":0.644,"e":1.904,"r":-1.42},{"f":0.644,"e":1.904,"r":-1.82},
{"f":0.651,"e":1.917,"r":1.11},{"f":0.651,"e":1.917,"r":0.71},{"f":0.651,"e":1.917,"r":0.31},{"f":0.651,"e":1.917,"r":-0.08},{"f":0.651,"e":1.917,"r":-0.48},{"f":0.651,"e":1.917,"r":-0.89},{"f":0.651,"e":1.917,"r":-1.3},{"f":0.651,"e":1.917,"r":-1.71},
{"f":0.658,"e":1.931,"r":1.28},{"f":0.658,"e":1.931,"r":0.88},{"f":0.658,"e":1.931,"r":0.48},{"f":0.658,"e":1.931,"r":0.08},{"f":0.658,"e":1.931,"r":-0.31},{"f":0.658,"e":1.931,"r":-0.71},{"f":0.658,"e":1.931,"r":-1.12},{"f":0.658,"e":1.931,"r":-1.55},{"f":0.658,"e":1.931,"r":-1.97},
{"f":0.665,"e":1.944,"r":1.23},{"f":0.665,"e":1.944,"r":0.83},{"f":0.665,"e":1.944,"r":0.43},{"f":0.665,"e":1.944,"r":0.04},{"f":0.665,"e":1.944,"r":-0.36},{"f":0.665,"e":1.944,"r":-0.77},{"f":0.665,"e":1.944,"r":-1.17},{"f":0.665,"e":1.944,"r":-1.58},{"f":0.665,"e":1.944,"r":-1.99},
{"f":0.672,"e":1.958,"r":1.01},{"f":0.672,"e":1.958,"r":0.6},{"f":0.672,"e":1.958,"r":0.18},{"f":0.672,"e":1.958,"r":-0.22},{"f":0.672,"e":1.958,"r":-0.61},{"f":0.672,"e":1.958,"r":-1.02},{"f":0.672,"e":1.958,"r":-1.42},{"f":0.672,"e":1.958,"r":-1.82},
{"f":0.679,"e":1.972,"r":1.13},{"f":0.679,"e":1.972,"r":0.72},{"f":0.679,"e":1.972,"r":0.31},{"f":0.679,"e":1.972,"r":-0.08},{"f":0.679,"e":1.972,"r":-0.5},{"f":0.679,"e":1.972,"r":-0.92},{"f":0.679,"e":1.972,"r":-1.32},{"f":0.679,"e":1.972,"r":-1.7},
{"f":0.686,"e":1.986,"r":1.17},{"f":0.686,"e":1.986,"r":0.77},{"f":0.686,"e":1.986,"r":0.37},{"f":0.686,"e":1.986,"r":-0.02},{"f":0.686,"e":1.986,"r":-0.42},{"f":0.686,"e":1.986,"r":-0.83},{"f":0.686,"e":1.986,"r":-1.23},{"f":0.686,"e":1.986,"r":-1.65},{"f":0.686,"e":1.986,"r":-2.05},
{"f":0.693,"e":2.0,"r":0.91},{"f":0.693,"e":2.0,"r":0.11},{"f":0.693,"e":2.0,"r":-0.28},{"f":0.693,"e":2.0,"r":-0.7},{"f":0.693,"e":2.0,"r":-1.1},{"f":0.693,"e":2.0,"r":-1.5},{"f":0.693,"e":2.0,"r":-1.9},
{"f":0.7,"e":2.014,"r":0.98},{"f":0.7,"e":2.014,"r":0.6},{"f":0.7,"e":2.014,"r":0.2},{"f":0.7,"e":2.014,"r":-0.22},{"f":0.7,"e":2.014,"r":-0.62},{"f":0.7,"e":2.014,"r":-1.0},{"f":0.7,"e":2.014,"r":-1.4},{"f":0.7,"e":2.014,"r":-1.81},
{"f":0.707,"e":2.028,"r":1.12},{"f":0.707,"e":2.028,"r":0.72},{"f":0.707,"e":2.028,"r":0.33},{"f":0.707,"e":2.028,"r":-0.07},{"f":0.707,"e":2.028,"r":-0.47},{"f":0.707,"e":2.028,"r":-0.87},{"f":0.707,"e":2.028,"r":-1.27},{"f":0.707,"e":2.028,"r":-1.68},{"f":0.707,"e":2.028,"r":-2.08},
{"f":0.714,"e":2.042,"r":0.42},{"f":0.714,"e":2.042,"r":0.02},{"f":0.714,"e":2.042,"r":-0.38},{"f":0.714,"e":2.042,"r":-0.78},{"f":0.714,"e":2.042,"r":-1.19},{"f":0.714,"e":2.042,"r":-1.61},{"f":0.714,"e":2.042,"r":-2.0},
{"f":0.721,"e":2.056,"r":1.08},{"f":0.721,"e":2.056,"r":0.68},{"f":0.721,"e":2.056,"r":0.28},{"f":0.721,"e":2.056,"r":-0.13},{"f":0.721,"e":2.056,"r":-0.52},{"f":0.721,"e":2.056,"r":-1.32},{"f":0.721,"e":2.056,"r":-1.72},{"f":0.721,"e":2.056,"r":-2.11},
{"f":0.728,"e":2.071,"r":1.01},{"f":0.728,"e":2.071,"r":0.61},{"f":0.728,"e":2.071,"r":0.22},{"f":0.728,"e":2.071,"r":-0.18},{"f":0.728,"e":2.071,"r":-0.58},{"f":0.728,"e":2.071,"r":-0.98},{"f":0.728,"e":2.071,"r":-1.38},{"f":0.728,"e":2.071,"r":-1.8},
{"f":0.735,"e":2.085,"r":0.91},{"f":0.735,"e":2.085,"r":0.5},{"f":0.735,"e":2.085,"r":0.09},{"f":0.735,"e":2.085,"r":-0.31},{"f":0.735,"e":2.085,"r":-0.72},{"f":0.735,"e":2.085,"r":-1.12},{"f":0.735,"e":2.085,"r":-1.51},{"f":0.735,"e":2.085,"r":-1.91},
{"f":0.742,"e":2.1,"r":1.0},{"f":0.742,"e":2.1,"r":0.59},{"f":0.742,"e":2.1,"r":0.19},{"f":0.742,"e":2.1,"r":-0.21},{"f":0.742,"e":2.1,"r":-0.62},{"f":0.742,"e":2.1,"r":-1.02},{"f":0.742,"e":2.1,"r":-1.42},{"f":0.742,"e":2.1,"r":-1.82},
{"f":0.749,"e":2.115,"r":1.08},{"f":0.749,"e":2.115,"r":0.67},{"f":0.749,"e":2.115,"r":0.27},{"f":0.749,"e":2.115,"r":-0.13},{"f":0.749,"e":2.115,"r":-0.53},{"f":0.749,"e":2.115,"r":-0.94},{"f":0.749,"e":2.115,"r":-1.35},{"f":0.749,"e":2.115,"r":-1.76},{"f":0.749,"e":2.115,"r":-2.15},
{"f":0.756,"e":2.13,"r":0.8},{"f":0.756,"e":2.13,"r":0.39},{"f":0.756,"e":2.13,"r":-0.01},{"f":0.756,"e":2.13,"r":-0.41},{"f":0.756,"e":2.13,"r":-0.81},{"f":0.756,"e":2.13,"r":-1.21},{"f":0.756,"e":2.13,"r":-1.62},{"f":0.756,"e":2.13,"r":-2.01},
{"f":0.763,"e":2.145,"r":1.07},{"f":0.763,"e":2.145,"r":0.68},{"f":0.763,"e":2.145,"r":0.28},{"f":0.763,"e":2.145,"r":-0.11},{"f":0.763,"e":2.145,"r":-0.51},{"f":0.763,"e":2.145,"r":-0.91},{"f":0.763,"e":2.145,"r":-1.31},{"f":0.763,"e":2.145,"r":-1.71},{"f":0.763,"e":2.145,"r":-2.1},
{"f":0.77,"e":2.16,"r":0.9},{"f":0.77,"e":2.16,"r":0.51},{"f":0.77,"e":2.16,"r":0.11},{"f":0.77,"e":2.16,"r":-0.29},{"f":0.77,"e":2.16,"r":-0.69},{"f":0.77,"e":2.16,"r":-1.09},{"f":0.77,"e":2.16,"r":-1.5},{"f":0.77,"e":2.16,"r":-1.91},
{"f":0.777,"e":2.175,"r":0.97},{"f":0.777,"e":2.175,"r":0.57},{"f":0.777,"e":2.175,"r":0.18},{"f":0.777,"e":2.175,"r":-0.22},{"f":0.777,"e":2.175,"r":-0.61},{"f":0.777,"e":2.175,"r":-1.02},{"f":0.777,"e":2.175,"r":-1.42},{"f":0.777,"e":2.175,"r":-1.81},
{"f":0.784,"e":2.19,"r":1.13},{"f":0.784,"e":2.19,"r":0.73},{"f":0.784,"e":2.19,"r":0.32},{"f":0.784,"e":2.19,"r":-0.08},{"f":0.784,"e":2.19,"r":-0.48},{"f":0.784,"e":2.19,"r":-0.88},{"f":0.784,"e":2.19,"r":-1.29},{"f":0.784,"e":2.19,"r":-1.7},{"f":0.784,"e":2.19,"r":-2.1},
{"f":0.791,"e":2.206,"r":0.81},{"f":0.791,"e":2.206,"r":0.41},{"f":0.791,"e":2.206,"r":0.01},{"f":0.791,"e":2.206,"r":-0.4},{"f":0.791,"e":2.206,"r":-0.81},{"f":0.791,"e":2.206,"r":-1.21},{"f":0.791,"e":2.206,"r":-1.61},{"f":0.791,"e":2.206,"r":-2.0},
{"f":0.798,"e":2.221,"r":0.91},{"f":0.798,"e":2.221,"r":0.52},{"f":0.798,"e":2.221,"r":0.1},{"f":0.798,"e":2.221,"r":-0.31},{"f":0.798,"e":2.221,"r":-0.71},{"f":0.798,"e":2.221,"r":-1.11},{"f":0.798,"e":2.221,"r":-1.51},{"f":0.798,"e":2.221,"r":-1.9},
{"f":0.805,"e":2.237,"r":1.08},{"f":0.805,"e":2.237,"r":0.68},{"f":0.805,"e":2.237,"r":0.28},{"f":0.805,"e":2.237,"r":-0.12},{"f":0.805,"e":2.237,"r":-0.52},{"f":0.805,"e":2.237,"r":-0.92},{"f":0.805,"e":2.237,"r":-1.32},{"f":0.805,"e":2.237,"r":-1.72},
{"f":0.812,"e":2.252,"r":1.02},{"f":0.812,"e":2.252,"r":0.61},{"f":0.812,"e":2.252,"r":0.21},{"f":0.812,"e":2.252,"r":-0.18},{"f":0.812,"e":2.252,"r":-0.58},{"f":0.812,"e":2.252,"r":-0.99},{"f":0.812,"e":2.252,"r":-1.4},{"f":0.812,"e":2.252,"r":-1.81},
{"f":0.819,"e":2.268,"r":1.21},{"f":0.819,"e":2.268,"r":0.8},{"f":0.819,"e":2.268,"r":0.39},{"f":0.819,"e":2.268,"r":-0.01},{"f":0.819,"e":2.268,"r":-0.41},{"f":0.819,"e":2.268,"r":-0.81},{"f":0.819,"e":2.268,"r":-1.21},{"f":0.819,"e":2.268,"r":-1.61},{"f":0.819,"e":2.268,"r":-2.05},
{"f":0.826,"e":2.284,"r":1.28},{"f":0.826,"e":2.284,"r":0.87},{"f":0.826,"e":2.284,"r":0.48},{"f":0.826,"e":2.284,"r":0.08},{"f":0.826,"e":2.284,"r":-0.32},{"f":0.826,"e":2.284,"r":-0.73},{"f":0.826,"e":2.284,"r":-1.13},{"f":0.826,"e":2.284,"r":-1.52},{"f":0.826,"e":2.284,"r":-1.92},
{"f":0.833,"e":2.3,"r":1.11},{"f":0.833,"e":2.3,"r":0.71},{"f":0.833,"e":2.3,"r":0.31},{"f":0.833,"e":2.3,"r":-0.09},{"f":0.833,"e":2.3,"r":-0.49},{"f":0.833,"e":2.3,"r":-0.9},{"f":0.833,"e":2.3,"r":-1.31},{"f":0.833,"e":2.3,"r":-1.71},
{"f":0.84,"e":2.316,"r":1.21},{"f":0.84,"e":2.316,"r":0.81},{"f":0.84,"e":2.316,"r":0.42},{"f":0.84,"e":2.316,"r":0.02},{"f":0.84,"e":2.316,"r":-0.38},{"f":0.84,"e":2.316,"r":-0.78},{"f":0.84,"e":2.316,"r":-1.2},{"f":0.84,"e":2.316,"r":-1.61},
{"f":0.847,"e":2.333,"r":1.0},{"f":0.847,"e":2.333,"r":0.58},{"f":0.847,"e":2.333,"r":0.18},{"f":0.847,"e":2.333,"r":-0.22},{"f":0.847,"e":2.333,"r":-0.63},{"f":0.847,"e":2.333,"r":-1.02},{"f":0.847,"e":2.333,"r":-1.42},{"f":0.847,"e":2.333,"r":-1.82},
{"f":0.854,"e":2.349,"r":1.01},{"f":0.854,"e":2.349,"r":0.61},{"f":0.854,"e":2.349,"r":0.21},{"f":0.854,"e":2.349,"r":-0.18},{"f":0.854,"e":2.349,"r":-0.6},{"f":0.854,"e":2.349,"r":-1.01},{"f":0.854,"e":2.349,"r":-1.41},{"f":0.854,"e":2.349,"r":-1.82},
{"f":0.861,"e":2.366,"r":1.22},{"f":0.861,"e":2.366,"r":0.81},{"f":0.861,"e":2.366,"r":0.4},{"f":0.861,"e":2.366,"r":-0.01},{"f":0.861,"e":2.366,"r":-0.41},{"f":0.861,"e":2.366,"r":-0.81},{"f":0.861,"e":2.366,"r":-1.21},{"f":0.861,"e":2.366,"r":-1.62},
{"f":0.868,"e":2.382,"r":1.32},{"f":0.868,"e":2.382,"r":0.91},{"f":0.868,"e":2.382,"r":0.51},{"f":0.868,"e":2.382,"r":0.1},{"f":0.868,"e":2.382,"r":-0.31},{"f":0.868,"e":2.382,"r":-0.71},{"f":0.868,"e":2.382,"r":-1.11},{"f":0.868,"e":2.382,"r":-1.51},{"f":0.868,"e":2.382,"r":-1.86},
{"f":0.875,"e":2.399,"r":1.11},{"f":0.875,"e":2.399,"r":0.7},{"f":0.875,"e":2.399,"r":0.29},{"f":0.875,"e":2.399,"r":-0.12},{"f":0.875,"e":2.399,"r":-0.52},{"f":0.875,"e":2.399,"r":-0.92},{"f":0.875,"e":2.399,"r":-1.32},{"f":0.875,"e":2.399,"r":-1.72},
{"f":0.882,"e":2.416,"r":1.49},{"f":0.882,"e":2.416,"r":1.08},{"f":0.882,"e":2.416,"r":0.7},{"f":0.882,"e":2.416,"r":0.32},{"f":0.882,"e":2.416,"r":-0.1},{"f":0.882,"e":2.416,"r":-0.51},{"f":0.882,"e":2.416,"r":-0.9},{"f":0.882,"e":2.416,"r":-1.3},{"f":0.882,"e":2.416,"r":-1.71},
{"f":0.889,"e":2.433,"r":1.41},{"f":0.889,"e":2.433,"r":1.0},{"f":0.889,"e":2.433,"r":0.6},{"f":0.889,"e":2.433,"r":0.21},{"f":0.889,"e":2.433,"r":-0.2},{"f":0.889,"e":2.433,"r":-0.6},{"f":0.889,"e":2.433,"r":-1.0},{"f":0.889,"e":2.433,"r":-1.41},{"f":0.889,"e":2.433,"r":-1.82},
{"f":0.902,"e":2.465,"r":1.62},{"f":0.902,"e":2.465,"r":1.21},{"f":0.902,"e":2.465,"r":0.82},{"f":0.902,"e":2.465,"r":0.41},{"f":0.902,"e":2.465,"r":0.0},{"f":0.902,"e":2.465,"r":-0.42},{"f":0.902,"e":2.465,"r":-0.82},{"f":0.902,"e":2.465,"r":-1.22},{"f":0.902,"e":2.465,"r":-1.62},
{"f":0.909,"e":2.482,"r":1.48},{"f":0.909,"e":2.482,"r":1.08},{"f":0.909,"e":2.482,"r":0.68},{"f":0.909,"e":2.482,"r":0.28},{"f":0.909,"e":2.482,"r":-0.11},{"f":0.909,"e":2.482,"r":-0.52},{"f":0.909,"e":2.482,"r":-0.91},{"f":0.909,"e":2.482,"r":-1.31},
{"f":0.916,"e":2.499,"r":1.72},{"f":0.916,"e":2.499,"r":1.31},{"f":0.916,"e":2.499,"r":0.92},{"f":0.916,"e":2.499,"r":0.51},{"f":0.916,"e":2.499,"r":0.1},{"f":0.916,"e":2.499,"r":-0.32},{"f":0.916,"e":2.499,"r":-0.71},{"f":0.916,"e":2.499,"r":-1.12},{"f":0.916,"e":2.499,"r":-1.51},
{"f":0.924,"e":2.519,"r":1.51},{"f":0.924,"e":2.519,"r":1.11},{"f":0.924,"e":2.519,"r":0.72},{"f":0.924,"e":2.519,"r":0.31},{"f":0.924,"e":2.519,"r":-0.08},{"f":0.924,"e":2.519,"r":-0.48},{"f":0.924,"e":2.519,"r":-0.88},
{"f":0.931,"e":2.537,"r":1.41},{"f":0.931,"e":2.537,"r":1.0},{"f":0.931,"e":2.537,"r":0.6},{"f":0.931,"e":2.537,"r":0.18},{"f":0.931,"e":2.537,"r":-0.22},{"f":0.931,"e":2.537,"r":-0.62},{"f":0.931,"e":2.537,"r":-1.1},
{"f":0.96,"e":2.612,"r":1.5},{"f":0.96,"e":2.612,"r":1.0},{"f":0.96,"e":2.612,"r":0.55},{"f":0.96,"e":2.612,"r":0.07},{"f":0.96,"e":2.612,"r":-0.45},{"f":0.96,"e":2.612,"r":-1.0},
{"f":0.972,"e":2.643,"r":1.72},{"f":0.972,"e":2.643,"r":1.27},{"f":0.972,"e":2.643,"r":0.77},{"f":0.972,"e":2.643,"r":0.27},{"f":0.972,"e":2.643,"r":-0.25},{"f":0.972,"e":2.643,"r":-0.76},{"f":0.972,"e":2.643,"r":-1.26},
{"f":0.992,"e":2.697,"r":1.8},{"f":0.992,"e":2.697,"r":1.0},{"f":0.992,"e":2.697,"r":0.6},{"f":0.992,"e":2.697,"r":0.22},{"f":0.992,"e":2.697,"r":-0.2},{"f":0.992,"e":2.697,"r":-0.6},{"f":0.992,"e":2.697,"r":-1.0},
{"f":1.005,"e":2.732,"r":1.62},{"f":1.005,"e":2.732,"r":1.21},{"f":1.005,"e":2.732,"r":0.82},{"f":1.005,"e":2.732,"r":0.41},{"f":1.005,"e":2.732,"r":0.0},{"f":1.005,"e":2.732,"r":-0.55}
],
"qc":[
{"t":-3.59,"s":-4.12},{"t":-3.28,"s":-3.37},{"t":-3.12,"s":-3.1},{"t":-3.05,"s":-2.99},{"t":-2.98,"s":-2.97},{"t":-2.93,"s":-2.93},{"t":-2.87,"s":-2.88},{"t":-2.8,"s":-2.8},{"t":-2.73,"s":-2.7},{"t":-2.66,"s":-2.63},{"t":-2.62,"s":-2.55},{"t":-2.59,"s":-2.56},{"t":-2.52,"s":-2.49},{"t":-2.48,"s":-2.4},{"t":-2.45,"s":-2.42},{"t":-2.38,"s":-2.36},{"t":-2.35,"s":-2.28},{"t":-2.31,"s":-2.29},{"t":-2.24,"s":-2.22},{"t":-2.2,"s":-2.12},{"t":-2.17,"s":-2.16},{"t":-2.1,"s":-2.1},{"t":-2.03,"s":-2.03},{"t":-2.0,"s":-1.95},{"t":-1.96,"s":-1.97},{"t":-1.89,"s":-1.9},{"t":-1.82,"s":-1.84},{"t":-1.75,"s":-1.77},{"t":-1.68,"s":-1.7},{"t":-1.61,"s":-1.64},{"t":-1.54,"s":-1.57},{"t":-1.47,"s":-1.51},{"t":-1.4,"s":-1.44},{"t":-1.33,"s":-1.38},{"t":-1.26,"s":-1.31},{"t":-1.19,"s":-1.25},{"t":-1.12,"s":-1.18},{"t":-1.05,"s":-1.12},{"t":-0.98,"s":-1.05},{"t":-0.91,"s":-0.99},{"t":-0.84,"s":-0.92},{"t":-0.77,"s":-0.86},{"t":-0.7,"s":-0.79},{"t":-0.63,"s":-0.73},{"t":-0.56,"s":-0.66},{"t":-0.49,"s":-0.6},{"t":-0.42,"s":-0.53},{"t":-0.35,"s":-0.47},{"t":-0.28,"s":-0.4},{"t":-0.21,"s":-0.34},{"t":-0.14,"s":-0.27},{"t":-0.07,"s":-0.2},{"t":0,"s":-0.13},{"t":0.07,"s":-0.07},{"t":0.14,"s":0},{"t":0.21,"s":0.07},{"t":0.28,"s":0.13},{"t":0.35,"s":0.2},{"t":0.42,"s":0.26},{"t":0.49,"s":0.33},{"t":0.56,"s":0.39},{"t":0.63,"s":0.46},{"t":0.7,"s":0.52},{"t":0.77,"s":0.59},{"t":0.84,"s":0.66},{"t":0.91,"s":0.72},{"t":0.98,"s":0.79},{"t":1.05,"s":0.86},{"t":1.12,"s":0.92},{"t":1.19,"s":0.99},{"t":1.26,"s":1.05},{"t":1.33,"s":1.12},{"t":1.4,"s":1.19},{"t":1.47,"s":1.26},{"t":1.54,"s":1.33},{"t":1.61,"s":1.4},{"t":1.68,"s":1.47},{"t":1.75,"s":1.54},{"t":1.82,"s":1.61},{"t":1.89,"s":1.68},{"t":1.96,"s":1.75},{"t":2.03,"s":1.82},{"t":2.1,"s":1.89},{"t":2.17,"s":1.97},{"t":2.24,"s":2.04},{"t":2.31,"s":2.12},{"t":2.38,"s":2.25},{"t":2.45,"s":2.4},{"t":2.52,"s":2.55},{"t":2.59,"s":2.66},{"t":2.66,"s":2.74},{"t":2.73,"s":2.79},{"t":2.8,"s":2.82},{"t":2.87,"s":2.84},{"t":2.93,"s":2.86},{"t":2.98,"s":2.88},{"t":3.04,"s":3.13},{"t":3.16,"s":3.22},{"t":3.32,"s":3.27},{"t":3.59,"s":3.6}
],
"qd":[
{"t":-3.59,"s":-3.96},{"t":-3.28,"s":-3.32},{"t":-3.12,"s":-3.02},{"t":-3.05,"s":-2.93},{"t":-2.98,"s":-2.91},{"t":-2.93,"s":-2.89},{"t":-2.87,"s":-2.83},{"t":-2.8,"s":-2.76},{"t":-2.73,"s":-2.69},{"t":-2.66,"s":-2.61},{"t":-2.59,"s":-2.54},{"t":-2.52,"s":-2.47},{"t":-2.45,"s":-2.4},{"t":-2.42,"s":-2.32},{"t":-2.38,"s":-2.34},{"t":-2.31,"s":-2.27},{"t":-2.24,"s":-2.21},{"t":-2.17,"s":-2.14},{"t":-2.1,"s":-2.08},{"t":-2.03,"s":-2.01},{"t":-1.96,"s":-1.95},{"t":-1.89,"s":-1.88},{"t":-1.82,"s":-1.81},{"t":-1.75,"s":-1.74},{"t":-1.68,"s":-1.68},{"t":-1.61,"s":-1.61},{"t":-1.54,"s":-1.54},{"t":-1.47,"s":-1.47},{"t":-1.4,"s":-1.41},{"t":-1.33,"s":-1.34},{"t":-1.26,"s":-1.28},{"t":-1.19,"s":-1.21},{"t":-1.12,"s":-1.14},{"t":-1.05,"s":-1.07},{"t":-0.98,"s":-1.0},{"t":-0.91,"s":-0.94},{"t":-0.84,"s":-0.87},{"t":-0.77,"s":-0.8},{"t":-0.7,"s":-0.73},{"t":-0.63,"s":-0.67},{"t":-0.56,"s":-0.6},{"t":-0.49,"s":-0.53},{"t":-0.42,"s":-0.46},{"t":-0.35,"s":-0.39},{"t":-0.28,"s":-0.32},{"t":-0.21,"s":-0.25},{"t":-0.14,"s":-0.18},{"t":-0.07,"s":-0.11},{"t":0,"s":-0.04},{"t":0.07,"s":0.03},{"t":0.14,"s":0.09},{"t":0.21,"s":0.16},{"t":0.28,"s":0.23},{"t":0.35,"s":0.3},{"t":0.42,"s":0.37},{"t":0.49,"s":0.44},{"t":0.56,"s":0.5},{"t":0.63,"s":0.57},{"t":0.7,"s":0.64},{"t":0.77,"s":0.71},{"t":0.84,"s":0.78},{"t":0.91,"s":0.85},{"t":0.98,"s":0.92},{"t":1.05,"s":0.99},{"t":1.12,"s":1.06},{"t":1.19,"s":1.13},{"t":1.26,"s":1.2},{"t":1.33,"s":1.27},{"t":1.4,"s":1.34},{"t":1.47,"s":1.41},{"t":1.54,"s":1.48},{"t":1.61,"s":1.55},{"t":1.68,"s":1.62},{"t":1.75,"s":1.69},{"t":1.82,"s":1.76},{"t":1.89,"s":1.83},{"t":1.96,"s":1.91},{"t":2.03,"s":1.98},{"t":2.1,"s":2.06},{"t":2.17,"s":2.13},{"t":2.24,"s":2.21},{"t":2.31,"s":2.3},{"t":2.38,"s":2.4},{"t":2.45,"s":2.52},{"t":2.52,"s":2.64},{"t":2.59,"s":2.73},{"t":2.66,"s":2.79},{"t":2.73,"s":2.84},{"t":2.8,"s":2.88},{"t":2.87,"s":2.91},{"t":2.93,"s":2.94},{"t":2.98,"s":2.98},{"t":3.04,"s":3.2},{"t":3.16,"s":3.33},{"t":3.32,"s":3.37},{"t":3.59,"s":3.72}
],
"lc":[{"t":-4.5,"s":-4.48},{"t":4.5,"s":4.2}],
"ld":[{"t":-4.5,"s":-4.52},{"t":4.5,"s":4.44}]
},
"concat":[
{"width":335,"height":140,
"title":{"text":"(a)","orient":"bottom","dx":-24,"offset":36},
"layer":[
{"data":{"name":"res"},
"mark":{"type":"point","shape":"circle","filled":false,"size":20,"strokeWidth":1.3,"color":"#000000","opacity":0.9},
"encoding":{
"x":{"field":"f","type":"quantitative","scale":{"domain":[0.258,1.139],"nice":false,"zero":false},"axis":{"orient":"bottom","values":[0.4,0.6,0.8,1.0],"format":".1f","title":"Fitted Values"}},
"y":{"field":"r","type":"quantitative","scale":{"domain":[-4.45,3.9],"nice":false,"zero":false},"axis":{"orient":"left","values":[-4,-2,0,2],"labelExpr":"'' + datum.value","title":"Quantile Residuals"}}}},
{"data":{"values":[{"f":0.5,"r":0}]},
"mark":{"type":"point","opacity":0},
"encoding":{
"x":{"field":"f","type":"quantitative","axis":{"orient":"top","title":"Against Fitted Values","ticks":false,"labels":false}},
"y":{"field":"r","type":"quantitative","axis":{"orient":"right","title":null,"ticks":false,"labels":false}}}}
],
"resolve":{"axis":{"x":"independent","y":"independent"}}},
{"width":330,"height":140,
"title":{"text":"(b)","orient":"bottom","dx":-9,"offset":36},
"layer":[
{"data":{"name":"res"},
"mark":{"type":"point","shape":"circle","filled":false,"size":20,"strokeWidth":1.3,"color":"#000000","opacity":0.9},
"encoding":{
"x":{"field":"e","type":"quantitative","scale":{"domain":[1.279,3.069],"nice":false,"zero":false},"axis":{"orient":"bottom","values":[1.5,2.0,2.5,3.0],"format":".1f","title":"Fitted Values"}},
"y":{"field":"r","type":"quantitative","scale":{"domain":[-4.3,4.02],"nice":false,"zero":false},"axis":{"orient":"left","values":[-4,-2,0,2],"labelExpr":"'' + datum.value","title":"Quantile Residuals"}}}},
{"data":{"values":[{"e":2,"r":0}]},
"mark":{"type":"point","opacity":0},
"encoding":{
"x":{"field":"e","type":"quantitative","axis":{"orient":"top","title":"Against Fitted Values","ticks":false,"labels":false}},
"y":{"field":"r","type":"quantitative","axis":null}}}
],
"resolve":{"axis":{"x":"independent","y":"independent"}}},
{"width":335,"height":140,
"title":{"text":"(c)","orient":"bottom","dx":-24,"offset":36},
"layer":[
{"data":{"name":"qc"},
"mark":{"type":"point","shape":"circle","filled":false,"size":16,"strokeWidth":1.6,"color":"#1e7d1e","opacity":1},
"encoding":{
"x":{"field":"t","type":"quantitative","scale":{"domain":[-3.877,3.877],"nice":false,"zero":false},"axis":{"orient":"bottom","values":[-3,-2,-1,0,1,2,3],"labelExpr":"'' + datum.value","title":"Theoretical Quantiles"}},
"y":{"field":"s","type":"quantitative","scale":{"domain":[-4.45,3.9],"nice":false,"zero":false},"axis":{"orient":"left","values":[-4,-2,0,2],"labelExpr":"'' + datum.value","title":"Sample Quantiles"}}}},
{"data":{"name":"lc"},
"mark":{"type":"line","color":"#e03c3c","strokeWidth":1,"clip":true},
"encoding":{
"x":{"field":"t","type":"quantitative","axis":{"orient":"top","title":"Normal Q-Q Plot","ticks":false,"labels":false}},
"y":{"field":"s","type":"quantitative","axis":{"orient":"right","title":null,"ticks":false,"labels":false}}}}
],
"resolve":{"axis":{"x":"independent","y":"independent"}}},
{"width":330,"height":140,
"title":{"text":"(d)","orient":"bottom","dx":-8,"offset":36},
"layer":[
{"data":{"name":"qd"},
"mark":{"type":"point","shape":"circle","filled":false,"size":16,"strokeWidth":1.6,"color":"#1e7d1e","opacity":1},
"encoding":{
"x":{"field":"t","type":"quantitative","scale":{"domain":[-3.877,3.762],"nice":false,"zero":false},"axis":{"orient":"bottom","values":[-3,-2,-1,0,1,2,3],"labelExpr":"'' + datum.value","title":"Theoretical Quantiles"}},
"y":{"field":"s","type":"quantitative","scale":{"domain":[-4.3,4.02],"nice":false,"zero":false},"axis":{"orient":"left","values":[-4,-2,0,2],"labelExpr":"'' + datum.value","title":"Sample Quantiles"}}}},
{"data":{"name":"ld"},
"mark":{"type":"line","color":"#e03c3c","strokeWidth":1,"clip":true},
"encoding":{
"x":{"field":"t","type":"quantitative","axis":{"orient":"top","title":"Normal Q-Q Plot","ticks":false,"labels":false}},
"y":{"field":"s","type":"quantitative","axis":null}}}
],
"resolve":{"axis":{"x":"independent","y":"independent"}}}
],
"config":{
"view":{"stroke":null},
"title":{"font":"Liberation Serif","fontSize":16,"fontWeight":"bold","color":"#1a1a1a"},
"axis":{"grid":false,"domainColor":"#333333","domainWidth":1,"tickColor":"#333333","tickWidth":1,"tickSize":5,"labelFont":"Liberation Sans","labelFontSize":17,"labelFontWeight":"bold","labelColor":"#000000","labelPadding":3,"titleFont":"Liberation Sans","titleFontSize":20,"titleFontWeight":"normal","titleColor":"#000000"},
"axisLeft":{"labelAngle":-90,"labelAlign":"center","labelBaseline":"bottom","titleX":-40,"titleY":67,"titleBaseline":"middle","titleAngle":-90},
"axisBottom":{"titleBaseline":"alphabetic","titleY":42},
"axisTop":{"titleFontWeight":"bold","titleBaseline":"alphabetic","titleY":-13}
}
}
